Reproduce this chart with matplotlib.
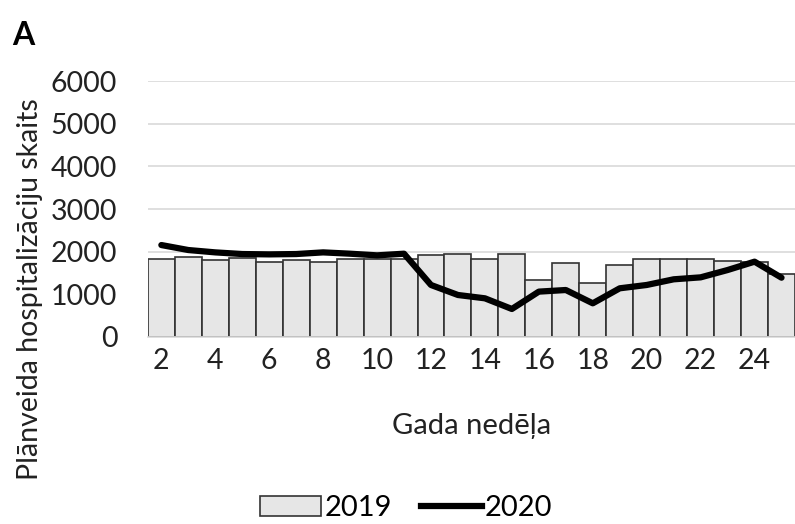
import numpy as np
import matplotlib.pyplot as plt
from matplotlib.lines import Line2D
from matplotlib.patches import Patch

plt.rcParams['font.family'] = ['Lato', 'DejaVu Sans']

weeks = list(range(2, 26))
vals_2019 = [1820, 1867, 1805, 1844, 1766, 1805, 1758, 1820, 1820, 1820,
             1914, 1945, 1820, 1953, 1336, 1727, 1258, 1687, 1820, 1820,
             1820, 1781, 1750, 1476]
vals_2020 = [2156, 2039, 1984, 1945, 1937, 1945, 1984, 1953, 1914, 1953,
             1219, 984, 906, 656, 1063, 1101, 789, 1141, 1219, 1352,
             1398, 1570, 1766, 1390]
xticks = list(range(2, 26, 2))
yticks = [0, 1000, 2000, 3000, 4000, 5000, 6000]

fig = plt.figure(figsize=(7.95, 5.24), dpi=100)
ax = fig.add_axes([0.186, 0.357, 0.814, 0.488])

ax.bar(weeks, vals_2019, width=1.0, color='#e6e6e6', edgecolor='#333333',
       linewidth=1.2, zorder=2)
ax.plot(weeks, vals_2020, color='black', linewidth=4.5, zorder=3,
        solid_capstyle='round', solid_joinstyle='round')

ax.set_xlim(1.5, 25.5)
ax.set_ylim(0, 6000)
ax.set_yticks(yticks)
ax.set_xticks(xticks)
ax.tick_params(axis='x', length=0, labelsize=20.5, colors='#222222', pad=8)
ax.tick_params(axis='y', length=0, labelsize=20.5, colors='#222222', pad=22)
ax.grid(axis='y', color='#d9d9d9', linewidth=1.2, zorder=0)
for s in ['top', 'right', 'left']:
    ax.spines[s].set_visible(False)
ax.spines['bottom'].set_color('#d9d9d9')
ax.spines['bottom'].set_linewidth(1.2)

ax.set_xlabel('Gada nedēļa', fontsize=21, color='#222222', labelpad=28)

# y label sits lower than the axes centre in the original
fig.text(0.038, 0.448, 'Plānveida hospitalizāciju skaits', fontsize=20.5,
         color='#222222', rotation=90, ha='center', va='center')

fig.text(0.015, 0.915, 'A', fontsize=23, fontweight='bold', color='black')

handles = [Patch(facecolor='#e6e6e6', edgecolor='#333333', linewidth=1.2),
           Line2D([0], [0], color='black', linewidth=4.5)]
fig.legend(handles, ['2019', '2020'], loc='center',
           bbox_to_anchor=(0.511, 0.03), ncol=2, frameon=False,
           fontsize=21, handlelength=2.1, handletextpad=0.1,
           columnspacing=1.0, borderpad=0.1)

fig.savefig('out.png', dpi=100)
